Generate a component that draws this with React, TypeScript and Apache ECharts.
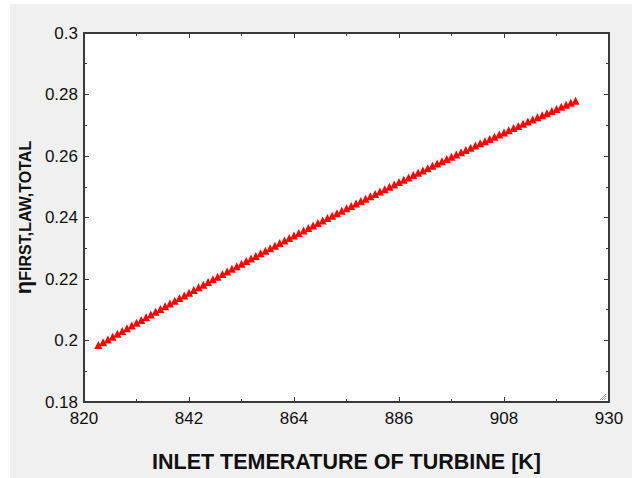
import React, { useEffect, useRef } from "react";
import * as echarts from "echarts";

const temperatures: number[] = [];
for (let t = 823; t <= 923; t++) temperatures.push(t);

const efficiency: number[] = [
  0.1985, 0.19942, 0.20034, 0.20125, 0.20216, 0.20307, 0.20398, 0.20489, 0.20579, 0.20669,
  0.20758, 0.20848, 0.20937, 0.21026, 0.21115, 0.21203, 0.21291, 0.21379, 0.21467, 0.21554,
  0.21642, 0.21729, 0.21815, 0.21902, 0.21988, 0.22074, 0.22159, 0.22245, 0.2233, 0.22415,
  0.225, 0.22584, 0.22668, 0.22752, 0.22836, 0.22919, 0.23002, 0.23085, 0.23168, 0.2325,
  0.23332, 0.23414, 0.23496, 0.23577, 0.23658, 0.23739, 0.2382, 0.239, 0.23981, 0.2406,
  0.2414, 0.24219, 0.24299, 0.24377, 0.24456, 0.24534, 0.24612, 0.2469, 0.24768, 0.24845,
  0.24922, 0.24999, 0.25076, 0.25152, 0.25228, 0.25304, 0.2538, 0.25455, 0.2553, 0.25605,
  0.2568, 0.25754, 0.25828, 0.25902, 0.25975, 0.26049, 0.26122, 0.26195, 0.26267, 0.2634,
  0.26412, 0.26483, 0.26555, 0.26626, 0.26697, 0.26768, 0.26839, 0.26909, 0.26979, 0.27049,
  0.27118, 0.27188, 0.27257, 0.27326, 0.27394, 0.27462, 0.2753, 0.27598, 0.27666, 0.27733,
  0.278,
];

const xMajorTicks = [820, 842, 864, 886, 908, 930];
const xMinorTicks = [831, 853, 875, 897, 919];
const X_MIN = 820;
const X_MAX = 930;
const Y_MIN = 0.18;
const Y_MAX = 0.3;
const Y_STEP = 0.02;

const xTitle = "INLET TEMERATURE OF TURBINE [K]";
const yTitleSymbol = "η";
const yTitleSub = "FIRST,LAW,TOTAL";

const FONT = "Arial, 'Liberation Sans', sans-serif";
const FRAME = "#3a3a3a";

export default function App() {
  const ref = useRef<HTMLDivElement>(null);
  useEffect(() => {
    if (!ref.current) return;
    const chart = echarts.init(ref.current, undefined, { renderer: "svg" });
    const base = {
      type: "value" as const,
      min: X_MIN,
      max: X_MAX,
      splitLine: { show: false },
    };
    const xAxes = [
      {
        ...base,
        position: "bottom",
        axisLine: { show: true, lineStyle: { color: FRAME, width: 2 } },
        axisTick: { show: true, inside: true, length: 5, customValues: xMajorTicks, lineStyle: { color: FRAME } },
        axisLabel: { show: true, customValues: xMajorTicks, color: "#111", fontSize: 17, fontFamily: FONT, margin: 8 },
        name: xTitle,
        nameLocation: "middle",
        nameGap: 49,
        nameTextStyle: { color: "#111", fontSize: 21.5, fontWeight: "bold", fontFamily: FONT },
      },
      {
        ...base,
        position: "bottom",
        axisLine: { show: false },
        axisTick: { show: true, inside: true, length: 3, customValues: xMinorTicks, lineStyle: { color: FRAME } },
        axisLabel: { show: false },
      },
      {
        ...base,
        position: "top",
        axisLine: { show: true, lineStyle: { color: FRAME, width: 2 } },
        axisTick: { show: true, inside: true, length: 5, customValues: xMajorTicks, lineStyle: { color: FRAME } },
        axisLabel: { show: false },
      },
      {
        ...base,
        position: "top",
        axisLine: { show: false },
        axisTick: { show: true, inside: true, length: 3, customValues: xMinorTicks, lineStyle: { color: FRAME } },
        axisLabel: { show: false },
      },
    ];
    const yBase = {
      type: "value" as const,
      min: Y_MIN,
      max: Y_MAX,
      interval: Y_STEP,
      splitLine: { show: false },
      minorTick: { show: true, splitNumber: 2, length: 3, lineStyle: { color: FRAME } },
      minorSplitLine: { show: false },
      axisLine: { show: true, lineStyle: { color: FRAME, width: 2 } },
      axisTick: { show: true, inside: true, length: 5, lineStyle: { color: FRAME } },
    };
    chart.setOption({
      animation: false,
      backgroundColor: "#ffffff",
      graphic: [
        { type: "rect", z: -10, shape: { x: 10, y: 4, width: 622, height: 474 }, style: { fill: "#f0f0f0" } },
        { type: "line", z: 10, shape: { x1: 600, y1: 400, x2: 606, y2: 394 }, style: { stroke: "#9a9a9a", lineWidth: 1 } },
        { type: "line", z: 10, shape: { x1: 602, y1: 400, x2: 606, y2: 396 }, style: { stroke: "#9a9a9a", lineWidth: 1 } },
        { type: "line", z: 10, shape: { x1: 604, y1: 400, x2: 606, y2: 398 }, style: { stroke: "#9a9a9a", lineWidth: 1 } },
      ],
      grid: {
        left: 84,
        right: 23,
        top: 33,
        bottom: 75,
        show: true,
        backgroundColor: "#ffffff",
        borderWidth: 0,
      },
      xAxis: xAxes,
      yAxis: [
        {
          ...yBase,
          position: "left",
          axisLabel: { show: true, color: "#111", fontSize: 17, fontFamily: FONT, margin: 6 },
          name: `{eta|${yTitleSymbol}}{sub|${yTitleSub}}`,
          nameLocation: "middle",
          nameGap: 42,
          nameRotate: 90,
          nameTextStyle: {
            color: "#111",
            fontFamily: FONT,
            rich: {
              eta: { fontSize: 22, fontWeight: "bold", fontFamily: FONT, color: "#111" },
              sub: { fontSize: 16, fontWeight: "bold", fontFamily: FONT, color: "#111", padding: [5, 0, 0, 0] },
            },
          },
        },
        {
          ...yBase,
          position: "right",
          axisLabel: { show: false },
        },
      ],
      series: [
        {
          type: "scatter",
          xAxisIndex: 0,
          yAxisIndex: 0,
          symbol: "triangle",
          symbolSize: 8,
          itemStyle: { color: "#ff0000", opacity: 1 },
          data: temperatures.map((t, i) => [t, efficiency[i]]),
        },
      ],
    });
    return () => chart.dispose();
  }, []);
  return (
    <div
      ref={ref}
      style={{ position: "fixed", left: 0, top: 0, width: 632, height: 478 }}
    />
  );
}
